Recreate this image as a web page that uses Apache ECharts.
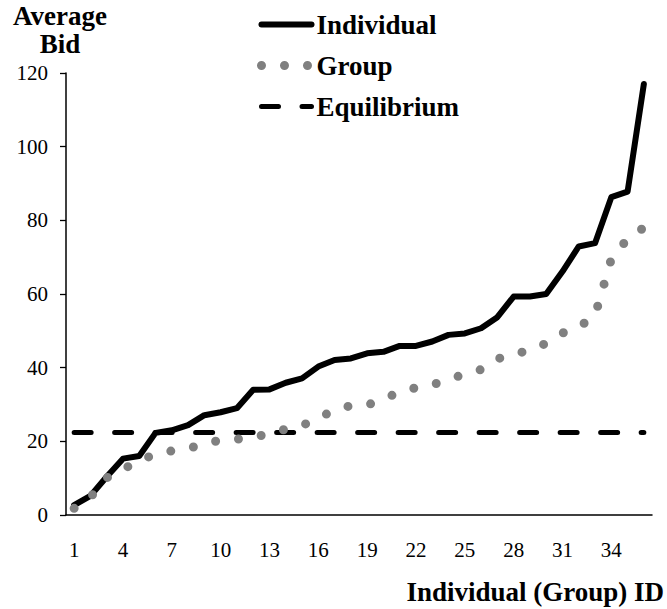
<!DOCTYPE html>
<html>
<head>
<meta charset="utf-8">
<script src="https://cdn.jsdelivr.net/npm/echarts@6/dist/echarts.min.js"></script>
<style>
html,body{margin:0;padding:0;background:#fff;}
#chart{width:667px;height:609px;}
</style>
</head>
<body>
<div id="chart"></div>
<script>
const categories = ['1','2','3','4','5','6','7','8','9','10','11','12','13','14','15','16','17','18','19','20','21','22','23','24','25','26','27','28','29','30','31','32','33','34','35','36'];
const individual = [2.7, 5.2, 10.4, 15.3, 16.0, 22.3, 23.0, 24.4, 27.1, 27.9, 29.0, 34.0, 34.1, 35.9, 37.1, 40.3, 42.1, 42.5, 43.9, 44.3, 45.9, 45.9, 47.1, 48.9, 49.3, 50.7, 53.7, 59.3, 59.3, 60.0, 66.1, 72.9, 73.8, 86.3, 87.8, 117.0];
const group = [1.8, 4.8, 10.1, 12.4, 14.8, 16.5, 17.4, 18.0, 19.4, 20.3, 20.6, 21.1, 22.1, 23.3, 24.3, 26.3, 28.5, 29.7, 29.8, 31.6, 33.3, 34.6, 35.3, 37.0, 38.1, 39.5, 42.4, 43.6, 44.8, 46.6, 49.4, 51.0, 54.2, 69.5, 75.0, 78.0];
const equilibrium = [22.4, 22.4, 22.4, 22.4, 22.4, 22.4, 22.4, 22.4, 22.4, 22.4, 22.4, 22.4, 22.4, 22.4, 22.4, 22.4, 22.4, 22.4, 22.4, 22.4, 22.4, 22.4, 22.4, 22.4, 22.4, 22.4, 22.4, 22.4, 22.4, 22.4, 22.4, 22.4, 22.4, 22.4, 22.4, 22.4];
const yTicks = [0, 20, 40, 60, 80, 100, 120];

const FONT = 'Liberation Serif';
const chart = echarts.init(document.getElementById('chart'), null, {renderer: 'svg'});

const indStyle = {color: '#000', width: 6, cap: 'round', join: 'round', type: 'solid'};
const grpStyle = {color: '#808080', width: 9, cap: 'round', join: 'round', type: [0, 23]};
const eqStyle = {color: '#000', width: 5, cap: 'round', join: 'round', type: [17, 23.5]};
const hiddenSymbol = {color: 'rgba(0,0,0,0)', borderWidth: 0, opacity: 0};

chart.setOption({
  animation: false,
  backgroundColor: '#fff',
  textStyle: {fontFamily: FONT},
  grid: {left: 66, right: 10, top: 73, bottom: 94, containLabel: false},
  legend: {
    orient: 'vertical',
    left: 257,
    top: 11,
    padding: 0,
    itemWidth: 50,
    itemHeight: 14,
    itemGap: 14,
    textStyle: {fontFamily: FONT, fontWeight: 'bold', fontSize: 27, color: '#000'},
    data: [
      {name: 'Individual', lineStyle: indStyle, itemStyle: hiddenSymbol},
      {name: 'Group', lineStyle: grpStyle, itemStyle: hiddenSymbol},
      {name: 'Equilibrium', lineStyle: eqStyle, itemStyle: hiddenSymbol}
    ]
  },
  xAxis: {
    type: 'category',
    data: categories,
    boundaryGap: true,
    name: 'Individual (Group) ID',
    nameLocation: 'end',
    nameGap: 12,
    nameTextStyle: {fontFamily: FONT, fontWeight: 'bold', fontSize: 27, color: '#000', align: 'right', verticalAlign: 'top', padding: [63, 0, 0, 0]},
    axisLine: {lineStyle: {color: '#000', width: 1.5}},
    axisTick: {interval: 5, length: 6, lineStyle: {color: '#000', width: 1.3}},
    axisLabel: {interval: 2, margin: 24, fontFamily: FONT, fontSize: 21, color: '#000'},
    splitLine: {show: false}
  },
  yAxis: {
    type: 'value',
    min: 0,
    max: 120,
    interval: 20,
    name: 'Average\nBid',
    nameLocation: 'end',
    nameGap: 15,
    nameTextStyle: {fontFamily: FONT, fontWeight: 'bold', fontSize: 27, color: '#000', align: 'center', verticalAlign: 'bottom', lineHeight: 28, padding: [0, 12, 0, 0]},
    axisLine: {show: true, lineStyle: {color: '#000', width: 1.5}},
    axisTick: {show: true, length: 6, lineStyle: {color: '#000', width: 1.3}},
    axisLabel: {margin: 18, fontFamily: FONT, fontSize: 21, color: '#000', formatter: v => yTicks.indexOf(v) >= 0 ? String(v) : ''},
    splitLine: {show: false}
  },
  series: [
    {name: 'Individual', type: 'line', data: individual, symbol: 'none', showSymbol: false, lineStyle: indStyle, itemStyle: {color: '#000'}, z: 3},
    {name: 'Group', type: 'line', data: group, symbol: 'none', showSymbol: false, lineStyle: grpStyle, itemStyle: {color: '#808080'}, z: 5},
    {name: 'Equilibrium', type: 'line', data: equilibrium, symbol: 'none', showSymbol: false, lineStyle: eqStyle, itemStyle: {color: '#000'}, z: 4}
  ]
});
</script>
</body>
</html>
